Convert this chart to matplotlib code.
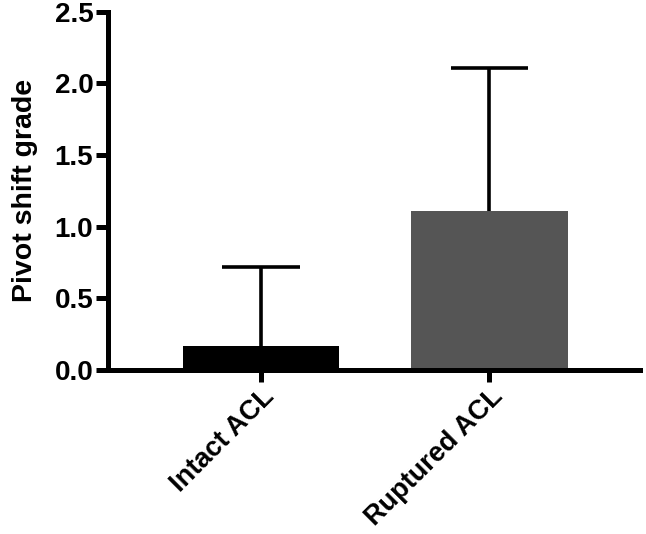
import matplotlib
matplotlib.use('Agg')
import matplotlib.pyplot as plt

groups = ['Intact ACL', 'Ruptured ACL']
means = [0.17, 1.11]
sds = [0.55, 1.00]
colors = ['#000000', '#555555']

plt.rcParams['font.family'] = ['Liberation Sans', 'DejaVu Sans']
plt.rcParams['font.weight'] = 'bold'

fig = plt.figure(figsize=(6.46, 5.34), dpi=100)
ax = fig.add_axes([0.167, 0.307, 0.824, 0.671])

x = list(range(len(groups)))
ax.bar(x, means, width=0.686, color=colors, zorder=2)

# upper error bars only
tops = [m + s for m, s in zip(means, sds)]
ax.vlines(x, means, tops, color='black', linewidth=2.6, zorder=3)
ax.hlines(tops, [i - 0.17 for i in x], [i + 0.17 for i in x], color='black', linewidth=2.6, zorder=3)

ax.set_xlim(-0.67, 1.66)
ax.set_ylim(0, 2.5)
ax.set_yticks([0.0, 0.5, 1.0, 1.5, 2.0, 2.5])
ax.set_yticklabels(['0.0', '0.5', '1.0', '1.5', '2.0', '2.5'])
ax.set_xticks(x)
ax.set_xticklabels(groups, rotation=45, ha='right', rotation_mode='anchor')

ax.spines['top'].set_visible(False)
ax.spines['right'].set_visible(False)
for s in ['left', 'bottom']:
    ax.spines[s].set_linewidth(3.6)
ax.tick_params(axis='both', width=3.6, length=8.5, labelsize=20, pad=2)
ax.tick_params(axis='x', labelsize=19.5, pad=1)
for lbl in ax.get_xticklabels() + ax.get_yticklabels():
    lbl.set_fontweight('bold')

ax.set_ylabel('Pivot shift grade', fontsize=20.5, fontweight='bold', labelpad=12)

fig.savefig('out.png', dpi=100)
